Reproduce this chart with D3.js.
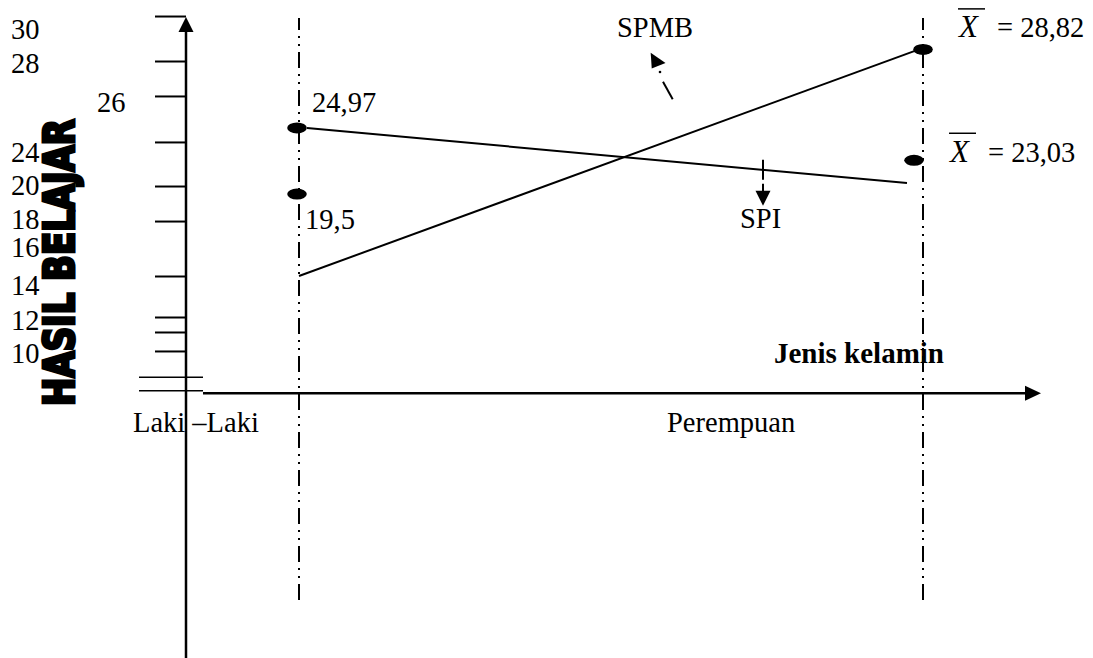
<!DOCTYPE html>
<html><head><meta charset="utf-8">
<script src="https://cdn.jsdelivr.net/npm/d3@7"></script>
<style>html,body{margin:0;padding:0;background:#fff;} svg{display:block;}</style>
</head><body><svg id="c" width="1093" height="658"></svg>
<script>
// ---- data ----
const categories = ["Laki –Laki", "Perempuan"];
const yTickLabels = [30, 28, 26, 24, 20, 18, 16, 14, 12, 10];
const yTickMarks = [30.8, 28.13, 26.32, 24.41, 19.97, 17.91, 14.5, 12.2, 11.31, 10.17];
const seriesNames = ["SPI", "SPMB"];
const spiMeans = [24.97, 23.03];
const spmbMeans = [19.5, 28.82];
const spiLine = [24.97, 20.3];
const spmbLine = [14.5, 28.82];
const meanLabels = ["24,97", "19,5", "28,82", "23,03"];
const xTitle = "Jenis kelamin";
const yTitle = "HASIL BELAJAR";

// ---- drawing ----
const svg = d3.select("#c");
const serif = "'Liberation Serif','Times New Roman',serif";
const FS = 28.5;

const x = d3.scalePoint().domain(categories).range([299, 923]);
const yDom = yTickLabels.slice().sort(d3.ascending);
const y = d3.scaleLinear().domain(yDom)
  .range([353.8, 320.5, 285.5, 247.5, 219.8, 185.5, 152.2, 102.2, 63.2, 29.5]);

const axisX = 186, xAxisY = 393.3;

// tick labels
svg.append("g").selectAll("text").data(yTickLabels).join("text")
  .attr("x", d => d === 26 ? 97 : 11)
  .attr("y", d => y(d) + 9.5)
  .attr("font-family", serif).attr("font-size", FS).attr("fill", "#000")
  .text(d => d);

// y title (heavy condensed)
svg.append("text")
  .attr("transform", `translate(74,406) rotate(-90)`)
  .attr("font-family", "'DejaVu Sans Condensed','DejaVu Sans',sans-serif").attr("font-weight", "bold")
  .attr("font-size", 42).attr("textLength", 287).attr("lengthAdjust", "spacingAndGlyphs")
  .attr("fill", "#000").attr("stroke", "#000").attr("stroke-width", 3).attr("stroke-linejoin", "miter")
  .text(yTitle);

// y axis ticks via d3 axis
const gy = svg.append("g").attr("transform", `translate(${axisX},0)`)
  .call(d3.axisLeft(y).tickValues(yTickMarks).tickSize(31).tickFormat(""));
gy.select(".domain").remove();
gy.selectAll(".tick line").attr("stroke", "#000").attr("stroke-width", 2);

// y axis line + arrow
svg.append("line").attr("x1", axisX).attr("x2", axisX).attr("y1", 30).attr("y2", 658)
  .attr("stroke", "#000").attr("stroke-width", 2.5);
svg.append("path").attr("d", `M${axisX},17 L${axisX - 7.5},32 L${axisX + 7.5},32 Z`).attr("fill", "#000");

// break marks
[xAxisY - 16, xAxisY - 2.6].forEach(v => {
  svg.append("line").attr("x1", 139).attr("x2", 203).attr("y1", v).attr("y2", v)
    .attr("stroke", "#000").attr("stroke-width", 1.6);
});

// x axis + arrow
svg.append("line").attr("x1", 203).attr("x2", 1027).attr("y1", xAxisY).attr("y2", xAxisY)
  .attr("stroke", "#000").attr("stroke-width", 2.5);
svg.append("path").attr("d", `M1025,${xAxisY - 7.5} L1041,${xAxisY} L1025,${xAxisY + 7.5} Z`).attr("fill", "#000");

// category guide lines (dash-dot-dot)
svg.append("g").selectAll("line").data(categories).join("line")
  .attr("x1", d => x(d)).attr("x2", d => x(d)).attr("y1", 600).attr("y2", 18)
  .attr("stroke", "#000").attr("stroke-width", 2).attr("stroke-dasharray", "16,6,2,6,2,6");

// category labels
svg.append("text").attr("x", x(categories[0]) - 166).attr("y", 432)
  .attr("font-family", serif).attr("font-size", FS).text(categories[0]);
svg.append("text").attr("x", x(categories[1]) - 256).attr("y", 432)
  .attr("font-family", serif).attr("font-size", FS).text(categories[1]);

// x title
svg.append("text").attr("x", 774).attr("y", 363)
  .attr("font-family", serif).attr("font-size", 29).attr("font-weight", "bold").text(xTitle);

// series lines
const L0 = x(categories[0]), L1 = x(categories[1]);
svg.append("line").attr("x1", L0 + 8).attr("y1", y(spiLine[0])).attr("x2", L1 - 16).attr("y2", y(spiLine[1]))
  .attr("stroke", "#000").attr("stroke-width", 2);
svg.append("line").attr("x1", L0).attr("y1", y(spmbLine[0])).attr("x2", L1 - 4).attr("y2", y(spmbLine[1]))
  .attr("stroke", "#000").attr("stroke-width", 2);

// mean points
const pts = [
  {c: categories[0], v: spiMeans[0], dx: -2},
  {c: categories[0], v: spmbMeans[0], dx: -2},
  {c: categories[1], v: spmbMeans[1], dx: 0},
  {c: categories[1], v: spiMeans[1], dx: -9}
];
svg.append("g").selectAll("ellipse").data(pts).join("ellipse")
  .attr("cx", d => x(d.c) + d.dx).attr("cy", d => y(d.v)).attr("rx", 9.8).attr("ry", 5.5).attr("fill", "#000");

// labels for left points
svg.append("text").attr("x", L0 + 13).attr("y", y(spiMeans[0]) - 16)
  .attr("font-family", serif).attr("font-size", FS).text(meanLabels[0]);
svg.append("text").attr("x", L0 + 6).attr("y", y(spmbMeans[0]) + 35)
  .attr("font-family", serif).attr("font-size", FS).text(meanLabels[1]);

// X-bar labels for right points
function xbar(px, py, label) {
  svg.append("text").attr("x", px).attr("y", py).attr("font-family", serif)
    .attr("font-size", 31).attr("font-style", "italic").text("X");
  svg.append("line").attr("x1", px - 1).attr("x2", px + 26).attr("y1", py - 28.5).attr("y2", py - 28.5)
    .attr("stroke", "#000").attr("stroke-width", 1.5);
  svg.append("text").attr("x", px + 38).attr("y", py).attr("font-family", serif)
    .attr("font-size", FS).text("= " + label);
}
xbar(L1 + 36, y(spmbMeans[1]) - 12, meanLabels[2]);
xbar(L1 + 27, y(spiMeans[1]) + 1.5, meanLabels[3]);

// series annotations
svg.append("text").attr("x", 617).attr("y", 37).attr("font-family", serif).attr("font-size", FS).text(seriesNames[1]);
svg.append("text").attr("x", 740).attr("y", 228).attr("font-family", serif).attr("font-size", FS).text(seriesNames[0]);

// SPMB dashed arrow
svg.append("line").attr("x1", 672.7).attr("y1", 99.3).attr("x2", 663).attr("y2", 81.7)
  .attr("stroke", "#000").attr("stroke-width", 2);
svg.append("circle").attr("cx", 660).attr("cy", 72).attr("r", 1.3).attr("fill", "#000");
svg.append("path").attr("d", "M650.7,52.7 L665.5,63 L651.7,68.5 Z").attr("fill", "#000");

// SPI tick + arrow
const tx = 763;
const ty = y(spiLine[0]) + (y(spiLine[1]) - y(spiLine[0])) * (tx - (L0 + 8)) / ((L1 - 16) - (L0 + 8));
svg.append("line").attr("x1", tx).attr("x2", tx).attr("y1", ty - 10).attr("y2", ty + 10)
  .attr("stroke", "#000").attr("stroke-width", 2);
svg.append("line").attr("x1", tx).attr("x2", tx).attr("y1", ty + 14).attr("y2", ty + 22)
  .attr("stroke", "#000").attr("stroke-width", 2);
svg.append("path").attr("d", `M${tx - 7.5},${ty + 21} L${tx + 7.5},${ty + 21} L${tx},${ty + 36} Z`).attr("fill", "#000");
</script></body></html>
